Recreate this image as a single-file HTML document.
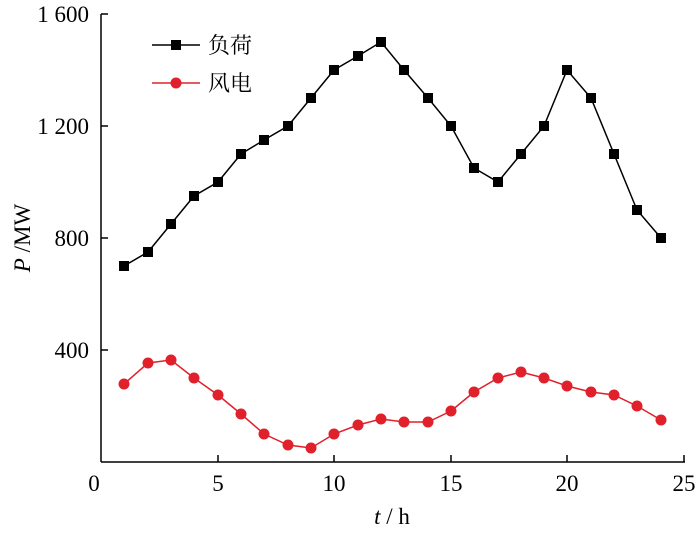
<!DOCTYPE html>
<html><head><meta charset="utf-8"><style>
html,body{margin:0;padding:0;background:#fff;}
svg{display:block;}
text{font-family:"Liberation Serif","Noto Serif CJK SC",serif;fill:#000;}
</style></head><body>
<svg width="700" height="533" viewBox="0 0 700 533" xmlns="http://www.w3.org/2000/svg">
<g stroke="#000" stroke-width="1.5" fill="none">
<line x1="101" y1="14" x2="101" y2="462"/>
<line x1="101" y1="462" x2="685" y2="462"/>
<line x1="101" y1="350" x2="108" y2="350"/>
<line x1="101" y1="238" x2="108" y2="238"/>
<line x1="101" y1="126" x2="108" y2="126"/>
<line x1="101" y1="14" x2="108" y2="14"/>
<line x1="218" y1="462" x2="218" y2="455"/>
<line x1="334" y1="462" x2="334" y2="455"/>
<line x1="451" y1="462" x2="451" y2="455"/>
<line x1="567" y1="462" x2="567" y2="455"/>
<line x1="684" y1="462" x2="684" y2="455"/>
</g>
<g font-size="23" text-anchor="end">
<text x="89" y="358">400</text>
<text x="89" y="246">800</text>
<text x="89" y="134">1 200</text>
<text x="89" y="22">1 600</text>
</g>
<g font-size="23" text-anchor="middle">
<text x="94" y="491">0</text>
<text x="218" y="491">5</text>
<text x="334" y="491">10</text>
<text x="451" y="491">15</text>
<text x="567" y="491">20</text>
<text x="684" y="491">25</text>
</g>
<text x="392" y="524" font-size="23" text-anchor="middle"><tspan font-style="italic">t</tspan> / h</text>
<text transform="translate(30,238) rotate(-90)" font-size="23" text-anchor="middle"><tspan font-style="italic">P</tspan> /MW</text>
<g>
<polyline fill="none" stroke="#000" stroke-width="1.5" points="124,266 148,252 171,224 194,196 218,182 241,154 264,140 288,126 311,98 334,70 358,56 381,42 404,70 428,98 451,126 474,168 498,182 521,154 544,126 567,70 591,98 614,154 637,210 661,238"/>
<g fill="#000">
<rect x="119" y="261" width="10" height="10"/><rect x="143" y="247" width="10" height="10"/><rect x="166" y="219" width="10" height="10"/><rect x="189" y="191" width="10" height="10"/><rect x="213" y="177" width="10" height="10"/><rect x="236" y="149" width="10" height="10"/><rect x="259" y="135" width="10" height="10"/><rect x="283" y="121" width="10" height="10"/><rect x="306" y="93" width="10" height="10"/><rect x="329" y="65" width="10" height="10"/><rect x="353" y="51" width="10" height="10"/><rect x="376" y="37" width="10" height="10"/><rect x="399" y="65" width="10" height="10"/><rect x="423" y="93" width="10" height="10"/><rect x="446" y="121" width="10" height="10"/><rect x="469" y="163" width="10" height="10"/><rect x="493" y="177" width="10" height="10"/><rect x="516" y="149" width="10" height="10"/><rect x="539" y="121" width="10" height="10"/><rect x="562" y="65" width="10" height="10"/><rect x="586" y="93" width="10" height="10"/><rect x="609" y="149" width="10" height="10"/><rect x="632" y="205" width="10" height="10"/><rect x="656" y="233" width="10" height="10"/>
</g></g>
<g>
<polyline fill="none" stroke="#e0202a" stroke-width="1.5" points="124,384 148,363 171,360 194,378 218,395 241,414 264,434 288,445 311,448 334,434 358,425 381,419 404,422 428,422 451,411 474,392 498,378 521,372 544,378 567,386 591,392 614,395 637,406 661,420"/>
<g fill="#e0202a">
<circle cx="124" cy="384" r="5.5"/><circle cx="148" cy="363" r="5.5"/><circle cx="171" cy="360" r="5.5"/><circle cx="194" cy="378" r="5.5"/><circle cx="218" cy="395" r="5.5"/><circle cx="241" cy="414" r="5.5"/><circle cx="264" cy="434" r="5.5"/><circle cx="288" cy="445" r="5.5"/><circle cx="311" cy="448" r="5.5"/><circle cx="334" cy="434" r="5.5"/><circle cx="358" cy="425" r="5.5"/><circle cx="381" cy="419" r="5.5"/><circle cx="404" cy="422" r="5.5"/><circle cx="428" cy="422" r="5.5"/><circle cx="451" cy="411" r="5.5"/><circle cx="474" cy="392" r="5.5"/><circle cx="498" cy="378" r="5.5"/><circle cx="521" cy="372" r="5.5"/><circle cx="544" cy="378" r="5.5"/><circle cx="567" cy="386" r="5.5"/><circle cx="591" cy="392" r="5.5"/><circle cx="614" cy="395" r="5.5"/><circle cx="637" cy="406" r="5.5"/><circle cx="661" cy="420" r="5.5"/>
</g></g>
<line x1="152" y1="45" x2="200" y2="45" stroke="#000" stroke-width="1.5"/>
<rect x="171" y="40" width="10" height="10" fill="#000"/>
<text x="208" y="53" font-size="22" font-family="Noto Sans CJK SC, sans-serif">负荷</text>
<line x1="152" y1="83" x2="200" y2="83" stroke="#e0202a" stroke-width="1.5"/>
<circle cx="176" cy="83" r="5.5" fill="#e0202a"/>
<text x="208" y="91" font-size="22" font-family="Noto Sans CJK SC, sans-serif">风电</text>
</svg>
</body></html>
